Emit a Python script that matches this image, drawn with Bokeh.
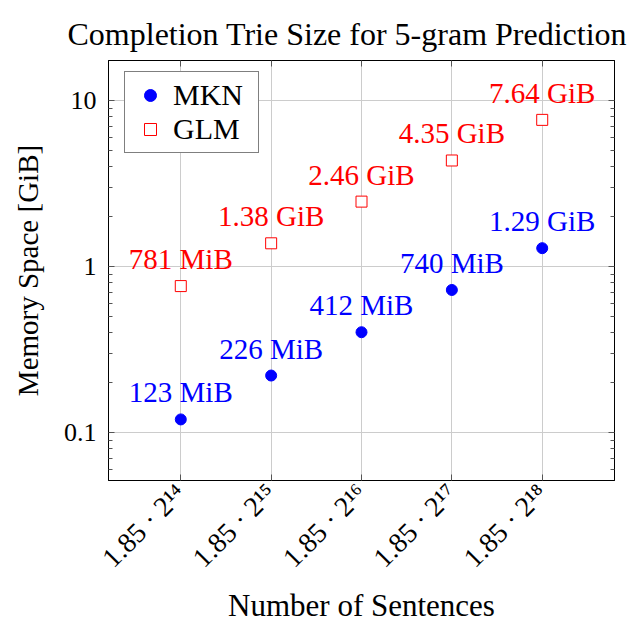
import math
from bokeh.plotting import figure
from bokeh.models import (ColumnDataSource, FixedTicker, LogAxis, LinearAxis,
                          Range1d, LabelSet, Legend, LegendItem)
from bokeh.embed import file_html
from bokeh.resources import INLINE

# ---- data ----
title_text = "Completion Trie Size for 5-gram Prediction"
exponents = [14, 15, 16, 17, 18]
tick_labels = ["1.85 · 2¹⁴", "1.85 · 2¹⁵", "1.85 · 2¹⁶", "1.85 · 2¹⁷", "1.85 · 2¹⁸"]
mkn_gib = [0.1201, 0.2207, 0.4023, 0.7227, 1.29]
mkn_labels = ["123 MiB", "226 MiB", "412 MiB", "740 MiB", "1.29 GiB"]
glm_gib = [0.7627, 1.38, 2.46, 4.35, 7.64]
glm_labels = ["781 MiB", "1.38 GiB", "2.46 GiB", "4.35 GiB", "7.64 GiB"]
y_major = [0.1, 1, 10]
y_major_labels = ["0.1", "1", "10"]

FONT = "Liberation Serif"

p = figure(frame_width=506, frame_height=420, y_axis_type="log",
           x_range=Range1d(13.2, 18.8), y_range=Range1d(0.0515, 17.4),
           output_backend="svg", toolbar_location=None,
           min_border_left=108, min_border_right=21, min_border_top=60,
           min_border_bottom=140, title=title_text)

p.title.text_font = FONT
p.title.text_font_size = "32px"
p.title.text_font_style = "normal"
p.title.align = "left"
p.title.offset = -41
p.title.vertical_align = "top"
p.title.standoff = 14
p.title.text_color = "black"

p.outline_line_color = "black"
p.outline_line_width = 1

minor = [m * d for d in [0.01, 0.1, 1, 10] for m in range(2, 10)]
yticker = FixedTicker(ticks=y_major, minor_ticks=minor)
xticker = FixedTicker(ticks=exponents)

xa = p.xaxis[0]
xa.ticker = xticker
xa.major_label_overrides = {x: l for x, l in zip(exponents, tick_labels)}
xa.major_label_orientation = math.pi / 4
xa.axis_label = "Number of Sentences"

ya = p.yaxis[0]
ya.ticker = yticker
ya.major_label_overrides = {v: l for v, l in zip(y_major, y_major_labels)}
ya.axis_label = "Memory Space [GiB]"

for ax in (xa, ya):
    ax.major_label_text_font = FONT
    ax.major_label_text_color = "black"
    ax.axis_label_text_font = FONT
    ax.axis_label_text_font_style = "normal"
    ax.axis_label_text_color = "black"
    ax.axis_line_color = "black"
    ax.major_tick_in = 6
    ax.major_tick_out = 0
    ax.minor_tick_in = 4
    ax.minor_tick_out = 0
    ax.major_tick_line_color = "#555555"
    ax.minor_tick_line_color = "#555555"
ya.major_label_text_font_size = "26px"
xa.major_label_text_font_size = "28px"
ya.axis_label_text_font_size = "29px"
xa.axis_label_text_font_size = "31px"
ya.major_label_standoff = 12
ya.axis_label_standoff = 17
xa.major_label_standoff = 8
xa.axis_label_standoff = 1

ra = LogAxis(ticker=yticker, major_label_text_color=None,
             major_label_text_font_size="2px", major_label_standoff=0,
             major_tick_in=6, major_tick_out=0, minor_tick_in=4, minor_tick_out=0,
             major_tick_line_color="#555555", minor_tick_line_color="#555555",
             axis_line_color="black")
p.add_layout(ra, "right")
ta = LinearAxis(ticker=xticker, major_label_text_color=None,
                major_label_text_font_size="2px", major_label_standoff=0,
                major_tick_in=6, major_tick_out=0, minor_tick_in=0, minor_tick_out=0,
                major_tick_line_color="#555555", axis_line_color="black")
p.add_layout(ta, "above")

p.xgrid.ticker = xticker
p.ygrid.ticker = FixedTicker(ticks=y_major)
p.xgrid.grid_line_color = "#cccccc"
p.ygrid.grid_line_color = "#cccccc"

src_m = ColumnDataSource(dict(x=exponents, y=mkn_gib, label=mkn_labels))
src_g = ColumnDataSource(dict(x=exponents, y=glm_gib, label=glm_labels))

r1 = p.scatter("x", "y", source=src_m, marker="circle", size=11,
               fill_color="blue", line_color="blue")
r2 = p.scatter("x", "y", source=src_g, marker="square", size=11,
               fill_color="white", line_color="red", line_width=1)

for src, col in ((src_m, "blue"), (src_g, "red")):
    p.add_layout(LabelSet(x="x", y="y", text="label", source=src,
                          text_align="center", text_baseline="alphabetic",
                          y_offset=17, text_color=col, text_font=FONT,
                          text_font_size="29px"))

legend = Legend(items=[LegendItem(label="MKN", renderers=[r1]),
                       LegendItem(label="GLM", renderers=[r2])],
                location=(16, 327), border_line_color="black", border_line_width=1,
                label_text_font=FONT, label_text_font_size="30px",
                label_text_color="black", glyph_width=38, glyph_height=30,
                label_height=30, label_width=79, label_standoff=4, padding=6,
                spacing=0, margin=0, background_fill_alpha=1)
p.add_layout(legend)

open("out.html", "w").write(file_html(p, INLINE))
